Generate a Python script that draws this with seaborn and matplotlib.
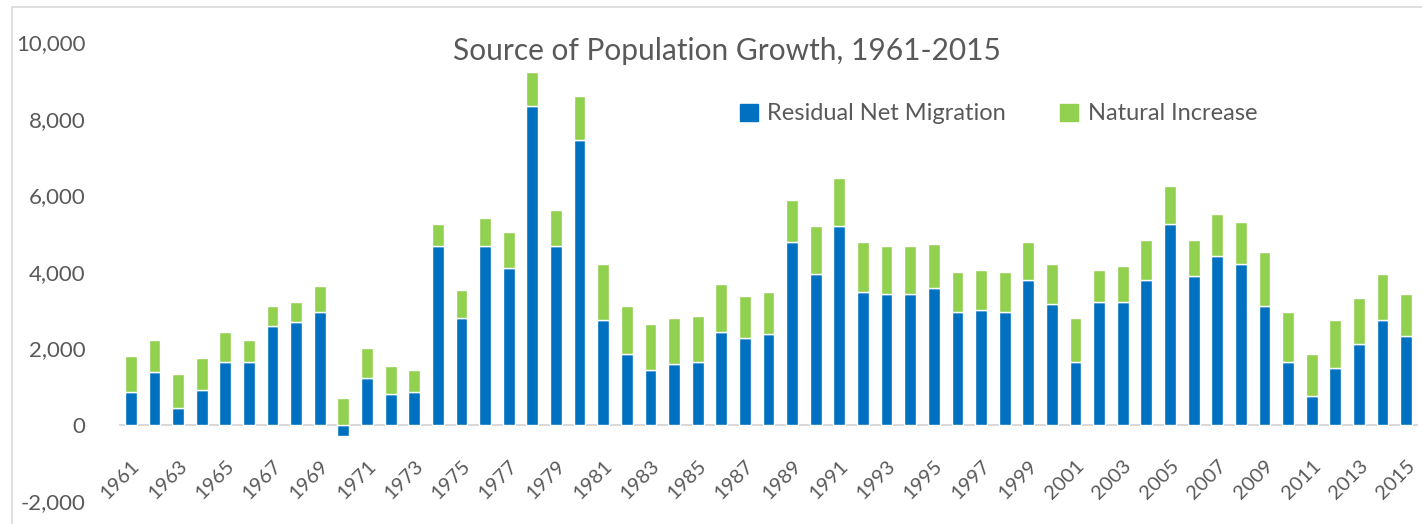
import pandas as pd
import matplotlib
matplotlib.use("Agg")
import matplotlib.pyplot as plt
from matplotlib.patches import Patch, Rectangle
import seaborn as sns

# === DATA ===
years = list(range(1961, 2016))
net_migration = [
    855, 1379, 445, 916, 1640, 1640, 2574, 2679, 2941, -288,
    1222, 803, 855, 4668, 2784, 4668, 4092, 8333, 4668, 7443,
    2731, 1850, 1431, 1588, 1640, 2426, 2269, 2373, 4773, 3935,
    5192, 3464, 3412, 3412, 3569, 2941, 2993, 2941, 3778, 3150,
    1640, 3202, 3202, 3778, 5244, 3883, 4407, 4197, 3098, 1640,
    750, 1483, 2112, 2731, 2321,
]
natural_increase = [
    943, 829, 881, 829, 786, 568, 524, 523, 680, 698,
    785, 733, 576, 576, 733, 733, 943, 890, 943, 1143,
    1466, 1248, 1196, 1196, 1196, 1248, 1091, 1091, 1100, 1257,
    1248, 1309, 1256, 1256, 1152, 1047, 1047, 1047, 995, 1047,
    1144, 838, 943, 1047, 986, 942, 1099, 1100, 1413, 1301,
    1100, 1248, 1195, 1204, 1091,
]

BLUE = "#0070C0"
GREEN = "#92D050"
TEXT = "#595959"

df = pd.DataFrame({
    "year": [str(y) for y in years],
    "migration": net_migration,
    "natural": natural_increase,
})
# natural increase stacks on top of the positive part only
df["base"] = df["migration"].clip(lower=0)

sns.set_theme(style="white")
plt.rcParams["font.family"] = ["Lato", "DejaVu Sans"]

W, H = 1422, 524
fig = plt.figure(figsize=(W / 100, H / 100), dpi=100)
ax = fig.add_axes([119 / W, 1 - 501 / H, (1418 - 119) / W, (501 - 42.3) / H])

# light frame around the chart area
fig.patches.append(Rectangle((12 / W, -0.1), 1.2, 1 - 7 / H + 0.1,
                             transform=fig.transFigure, fill=False,
                             edgecolor="#D9D9D9", linewidth=1.2))

sns.barplot(data=df, x="year", y="migration", color=BLUE, width=0.5,
            saturation=1, ax=ax)
sns.barplot(data=df, x="year", y="natural", color=GREEN, width=0.5,
            saturation=1, bottom=df["base"], ax=ax)

ax.set_ylim(-2000, 10000)
ax.set_xlim(-0.5, len(years) - 0.5)
yticks = list(range(-2000, 10001, 2000))
ax.set_yticks(yticks)
ax.set_yticklabels([f"{v:,}" for v in yticks], fontsize=16, color=TEXT)
ax.tick_params(axis="y", length=0, pad=24)

# every other year, rotated, hanging just under the zero line
ax.set_xticks(range(0, len(years), 2))
ax.set_xticklabels(df["year"][::2], rotation=45, ha="right",
                   rotation_mode="anchor", fontsize=14.5, color=TEXT)
ax.tick_params(axis="x", length=0)
for lbl in ax.get_xticklabels():
    lbl.set_transform(ax.get_xaxis_transform())
    lbl.set_position((lbl.get_position()[0], (2000 - 850) / 12000))

ax.axhline(0, color="#D9D9D9", linewidth=1.5, zorder=0)
for s in ax.spines.values():
    s.set_visible(False)
ax.set_xlabel("")
ax.set_ylabel("")

fig.text(727 / W, 1 - 51 / H, "Source of Population Growth, 1961-2015",
         ha="center", va="center", fontsize=21.5, color=TEXT)

handles = [Patch(color=BLUE, label="Residual Net Migration"),
           Patch(color=GREEN, label="Natural Increase")]
fig.legend(handles=handles, loc="center left", ncol=2, frameon=False,
           bbox_to_anchor=(719 / W, 1 - 114 / H), fontsize=17,
           handlelength=0.75, handleheight=0.75, handletextpad=0.4,
           columnspacing=2.3, labelcolor=TEXT)

fig.savefig("out.png", dpi=100)
